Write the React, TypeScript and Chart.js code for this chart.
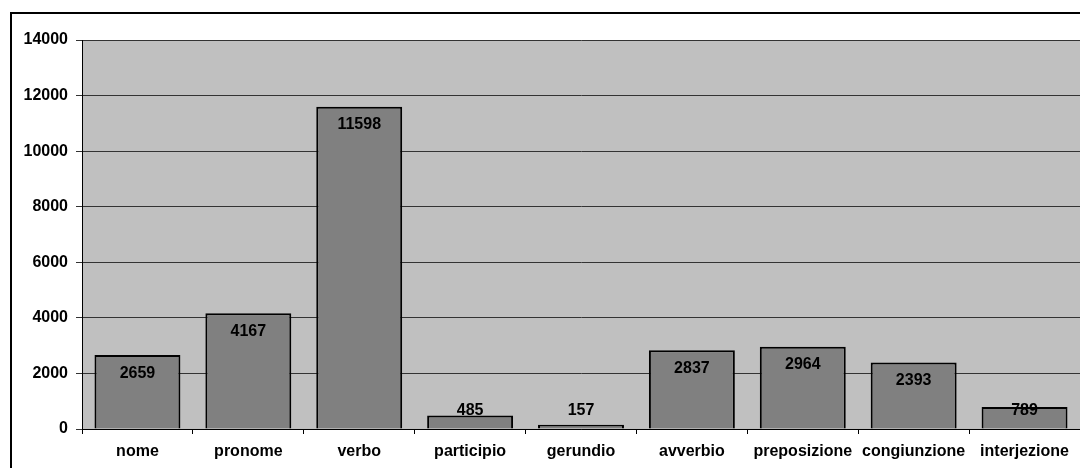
import React, { useEffect, useRef } from "react";
import { Chart, registerables } from "chart.js";

Chart.register(...registerables);

const categories = ["nome", "pronome", "verbo", "participio", "gerundio", "avverbio", "preposizione", "congiunzione", "interjezione"];
const counts = [2659, 4167, 11598, 485, 157, 2837, 2964, 2393, 789];
const yTicks = [0, 2000, 4000, 6000, 8000, 10000, 12000, 14000];

const FONT_FAMILY = 'Arial, "Liberation Sans", sans-serif';
const FONT_SIZE = 16;

const bgPlugin = {
  id: "plotBg",
  beforeDraw(chart: any) {
    const { ctx, chartArea } = chart;
    ctx.save();
    ctx.fillStyle = "#ffffff";
    ctx.fillRect(0, 0, chart.width, chart.height);
    ctx.fillStyle = "#C0C0C0";
    ctx.fillRect(chartArea.left, chartArea.top, chartArea.right - chartArea.left, chartArea.bottom - chartArea.top);
    ctx.restore();
  },
  afterDraw(chart: any) {
    const { ctx } = chart;
    ctx.save();
    ctx.strokeStyle = "#000";
    ctx.lineWidth = 2;
    ctx.beginPath();
    ctx.moveTo(11, chart.height + 5);
    ctx.lineTo(11, 13);
    ctx.lineTo(chart.width + 5, 13);
    ctx.stroke();
    ctx.restore();
  },
};

const labelPlugin = {
  id: "barLabels",
  afterDatasetsDraw(chart: any) {
    const { ctx } = chart;
    const meta = chart.getDatasetMeta(0);
    ctx.save();
    ctx.font = `bold ${FONT_SIZE}px ${FONT_FAMILY}`;
    ctx.fillStyle = "#000";
    ctx.textAlign = "center";
    ctx.textBaseline = "middle";
    meta.data.forEach((el: any, i: number) => {
      const y = Math.min(el.y + 18, el.base - 18);
      ctx.fillText(String(counts[i]), el.x, y);
    });
    ctx.restore();
  },
};

export default function App() {
  const ref = useRef<HTMLCanvasElement>(null);
  useEffect(() => {
    if (!ref.current) return;
    const chart = new Chart(ref.current, {
      type: "bar",
      data: {
        labels: categories,
        datasets: [
          {
            data: counts,
            backgroundColor: "#808080",
            borderColor: "#000000",
            borderWidth: 2,
            barPercentage: 0.775,
            categoryPercentage: 1,
          },
        ],
      },
      options: {
        responsive: false,
        animation: false,
        devicePixelRatio: 1,
        layout: { padding: { left: 0, top: 40, right: 0, bottom: 0 } },
        plugins: { legend: { display: false }, tooltip: { enabled: false } },
        scales: {
          x: {
            grid: {
              drawOnChartArea: false,
              drawTicks: true,
              tickLength: 5,
              color: "#000",
            },
            border: { display: true, color: "#000", width: 1 },
            ticks: {
              color: "#000",
              font: { family: FONT_FAMILY, size: FONT_SIZE, weight: "bold" },
              padding: 8,
              maxRotation: 0,
              autoSkip: false,
            },
            afterFit: (s: any) => {
              s.height = 39;
            },
          },
          y: {
            min: 0,
            max: 14000,
            afterBuildTicks: (s: any) => {
              s.ticks = yTicks.map((v) => ({ value: v }));
            },
            grid: { color: "#333", lineWidth: 1, drawTicks: true, tickLength: 6 },
            border: { display: true, color: "#000", width: 1 },
            ticks: {
              color: "#000",
              font: { family: FONT_FAMILY, size: FONT_SIZE, weight: "bold" },
              padding: 8,
              callback: (v: any) => String(v),
            },
            afterFit: (s: any) => {
              s.width = 82;
            },
          },
        },
      },
      plugins: [bgPlugin, labelPlugin],
    });
    return () => chart.destroy();
  }, []);
  return (
    <div style={{ position: "fixed", left: 0, top: 0, width: 1080, height: 468 }}>
      <canvas ref={ref} width={1080} height={468} style={{ display: "block" }} />
    </div>
  );
}
